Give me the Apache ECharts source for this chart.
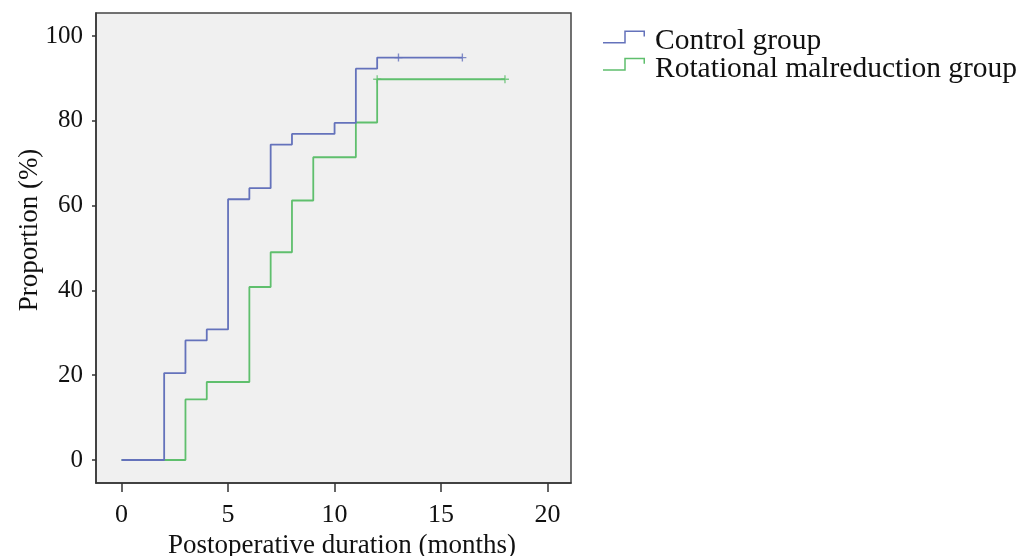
<!DOCTYPE html>
<html>
<head>
<meta charset="utf-8">
<script src="https://cdn.jsdelivr.net/npm/echarts@6/dist/echarts.min.js"></script>
<style>html,body{margin:0;padding:0;background:#fff}#c{width:1020px;height:556px}</style>
</head>
<body>
<div id="c"></div>
<script>
var seriesNames = ['Control group', 'Rotational malreduction group'];
var controlTimes = [0, 2, 3, 4, 5, 6, 7, 8, 10, 11, 12, 16];
var controlValues = [0, 20.5, 28.2, 30.8, 61.5, 64.1, 74.4, 76.9, 79.5, 92.3, 94.9, 94.9];
var controlCensorTimes = [13, 16];
var controlCensorValues = [94.9, 94.9];
var rotTimes = [0, 3, 4, 6, 7, 8, 9, 11, 12, 18];
var rotValues = [0, 14.3, 18.4, 40.8, 49.0, 61.2, 71.4, 79.6, 89.8, 89.8];
var rotCensorTimes = [12, 18];
var rotCensorValues = [89.8, 89.8];
var xTicks = [0, 5, 10, 15, 20];
var yTicks = [0, 20, 40, 60, 80, 100];
var xTitle = 'Postoperative duration (months)';
var yTitle = 'Proportion (%)';

var BLUE = '#6472bb', GREEN = '#5fbf6d';
var FONT = '"Liberation Serif", "Times New Roman", serif';
function zip(a, b) { return a.map(function (v, i) { return [v, b[i]]; }); }
var plus = 'path://M-0.17,-1H0.17V-0.17H1V0.17H0.17V1H-0.17V0.17H-1V-0.17H-0.17Z';
// step-shaped legend glyph; a degenerate sub-path at the bottom lowers the icon's centre
var stepIcon = 'path://M0,11.55L21.25,11.55L21.25,0L42,0L42,6L40.5,6L40.5,1.5L22.75,1.5L22.75,13.05L0,13.05Z M0,22.39L0.01,22.4L0,22.4Z';

var chart = echarts.init(document.getElementById('c'), null, {renderer: 'canvas'});
function legendFor(name, top) {
  return {
    left: 598, top: top, orient: 'vertical', selectedMode: false,
    data: [{name: name, icon: stepIcon}],
    itemWidth: 42, itemHeight: 22.4,
    itemStyle: {borderWidth: 0},
    textStyle: {fontFamily: FONT, fontSize: 29.5, color: '#111', padding: [0, 0, 0, 5], lineHeight: 29.5}
  };
}
chart.setOption({
  animation: false,
  backgroundColor: '#ffffff',
  legend: [legendFor(seriesNames[0], 21.7), legendFor(seriesNames[1], 49)],
  grid: {left: 96, right: 449, top: 13, bottom: 73, show: true, backgroundColor: '#f0f0f0', borderColor: '#444', borderWidth: 1.5},
  xAxis: {
    type: 'value', min: -1.2, max: 21.1,
    splitLine: {show: false},
    axisLine: {show: true, onZero: false, lineStyle: {color: '#333', width: 1.5}},
    axisTick: {show: true, length: 9, customValues: xTicks, lineStyle: {color: '#333', width: 1.5}},
    axisLabel: {customValues: xTicks, fontFamily: FONT, fontSize: 26, color: '#111', margin: 19}
  },
  yAxis: {
    type: 'value', min: -5.42, max: 105.42,
    splitLine: {show: false},
    axisLine: {show: true, onZero: false, lineStyle: {color: '#333', width: 1.5}},
    axisTick: {show: true, length: 4, customValues: yTicks, lineStyle: {color: '#333', width: 1.5}},
    axisLabel: {customValues: yTicks, fontFamily: FONT, fontSize: 25, color: '#111', margin: 13}
  },
  graphic: [
    {type: 'text', x: 30, y: 230, rotation: Math.PI / 2,
     style: {text: yTitle, font: '27px ' + FONT, fill: '#111', align: 'center', verticalAlign: 'middle'}},
    {type: 'text', x: 342, y: 546,
     style: {text: xTitle, font: '27px ' + FONT, fill: '#111', align: 'center', verticalAlign: 'middle'}}
  ],
  series: [
    {name: seriesNames[0], type: 'line', step: 'end', data: zip(controlTimes, controlValues),
     showSymbol: false, lineStyle: {color: BLUE, width: 1.8}, itemStyle: {color: BLUE}, z: 3},
    {name: seriesNames[1], type: 'line', step: 'end', data: zip(rotTimes, rotValues),
     showSymbol: false, lineStyle: {color: GREEN, width: 1.8}, itemStyle: {color: GREEN}, z: 2},
    {name: seriesNames[0], type: 'scatter', data: zip(controlCensorTimes, controlCensorValues),
     symbol: plus, symbolSize: 8, itemStyle: {color: BLUE}, z: 4},
    {name: seriesNames[1], type: 'scatter', data: zip(rotCensorTimes, rotCensorValues),
     symbol: plus, symbolSize: 8, itemStyle: {color: GREEN}, z: 4}
  ]
});
</script>
</body>
</html>
